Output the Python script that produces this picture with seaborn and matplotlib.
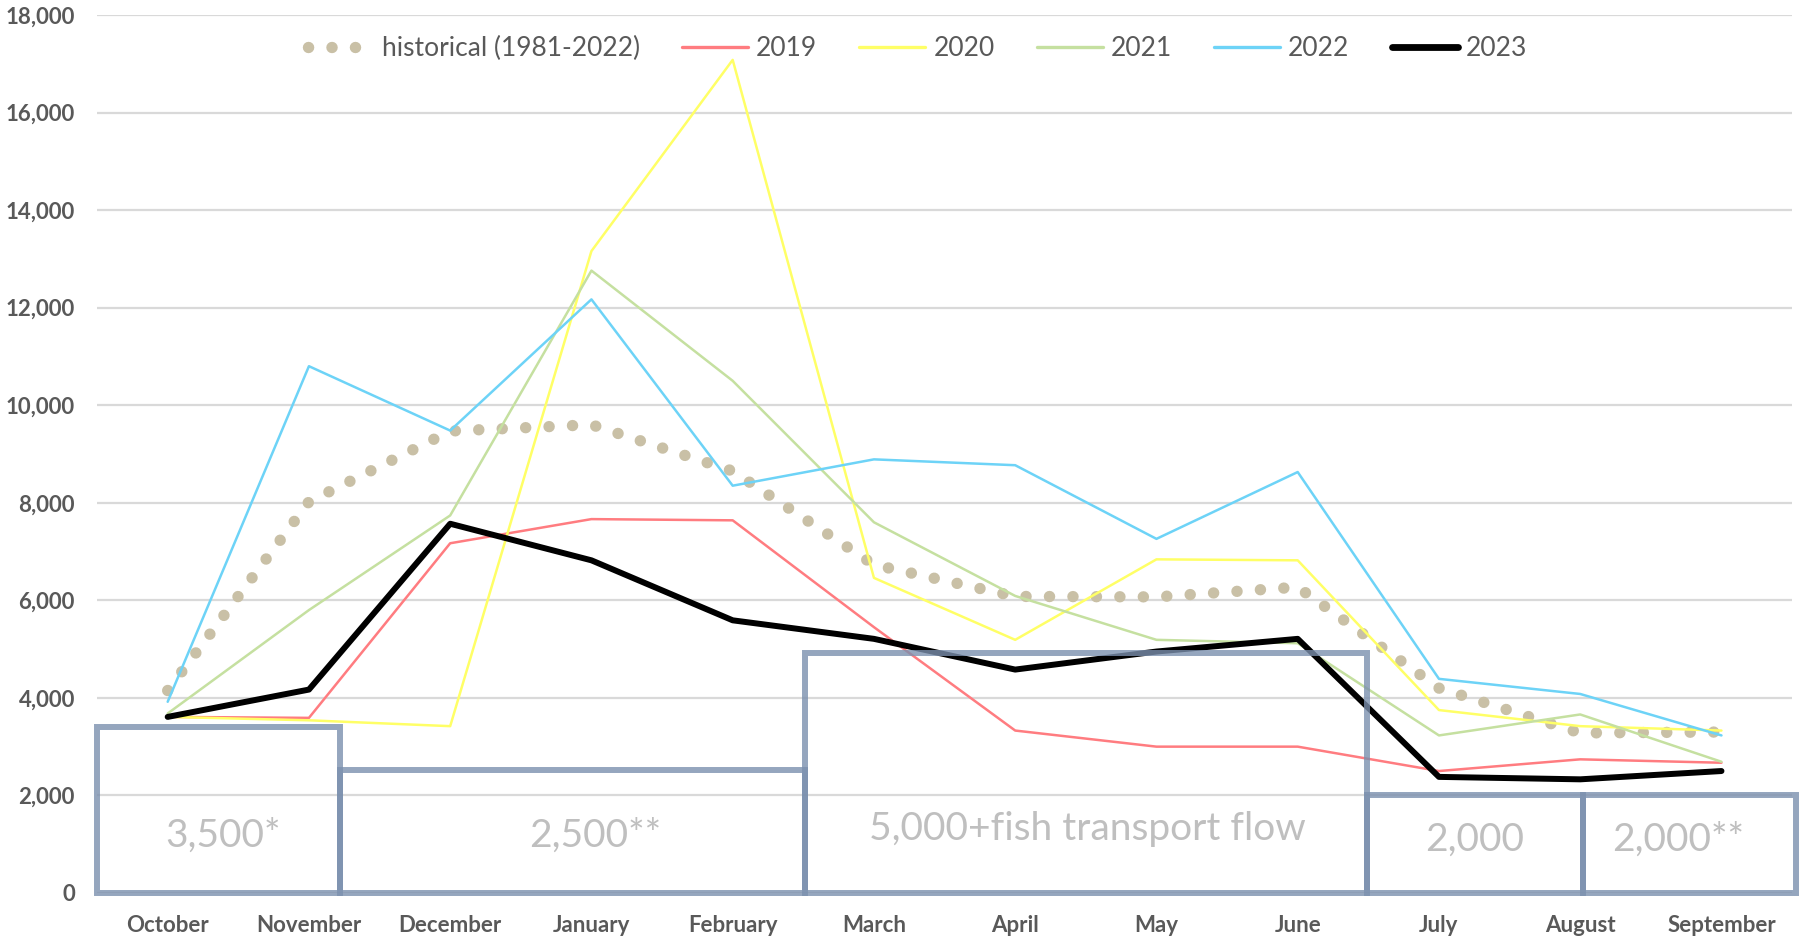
import matplotlib
matplotlib.use("Agg")
import matplotlib.pyplot as plt
from matplotlib.patches import Rectangle
from matplotlib.lines import Line2D
from matplotlib.ticker import FuncFormatter
import seaborn as sns

# data
months = ['October', 'November', 'December', 'January', 'February', 'March',
          'April', 'May', 'June', 'July', 'August', 'September']
historical = [4150, 8020, 9470, 9600, 8650, 6730, 6080, 6070, 6270, 4200, 3280, 3300]
y2019 = [3610, 3590, 7170, 7665, 7640, 5450, 3330, 3000, 3000, 2500, 2740, 2670]
y2020 = [3610, 3540, 3420, 13160, 17080, 6460, 5190, 6840, 6820, 3750, 3420, 3330]
y2021 = [3680, 5800, 7740, 12760, 10500, 7600, 6090, 5190, 5120, 3230, 3660, 2690]
y2022 = [3920, 10800, 9480, 12170, 8350, 8890, 8770, 7260, 8630, 4390, 4080, 3230]
y2023 = [3610, 4170, 7570, 6820, 5590, 5210, 4580, 4950, 5210, 2380, 2330, 2500]

# minimum flow blocks (month index units)
box_start = [-0.5, 1.22, 4.51, 8.49, 10.02]
box_end = [1.22, 4.51, 8.49, 10.02, 11.53]
box_height = [3400, 2520, 4930, 2000, 2000]
box_labels = ['3,500*', '2,500**', '5,000+fish transport flow', '2,000', '2,000**']
label_x = [0.39, 3.03, 6.51, 9.25, 10.69]
label_y = [1180, 1180, 1320, 1085, 1085]

sns.set_style("white")
plt.rcParams['font.family'] = ['Lato', 'DejaVu Sans']

fig = plt.figure(figsize=(18.04, 9.38), dpi=100)
ax = fig.add_axes([0.0538, 0.048, 0.9396, 0.936])

x = list(range(len(months)))
txt = '#595959'

ax.set_ylim(0, 18000)
ax.set_xlim(-0.5, 11.5)
ax.set_yticks(range(0, 18001, 2000))
ax.yaxis.set_major_formatter(FuncFormatter(lambda v, p: f'{int(v):,}'))
ax.set_xticks(x)
ax.set_xticklabels(months)
ax.grid(axis='y', color='#d9d9d9', lw=1.6)
ax.set_axisbelow(True)
for s in ax.spines.values():
    s.set_visible(False)
ax.tick_params(axis='both', length=0, labelcolor=txt, labelsize=16)
ax.tick_params(axis='y', pad=16)
ax.tick_params(axis='x', pad=16)
for lab in ax.get_xticklabels() + ax.get_yticklabels():
    lab.set_fontweight('bold')

sns.lineplot(x=x, y=historical, ax=ax, color='#c9c0a6', lw=8.2,
             linestyle=(0, (0.01, 2.05)), dash_capstyle='round')
series = [(y2019, '#ff7c80', 1.8, '2019'), (y2020, '#ffff66', 1.8, '2020'),
          (y2021, '#c5e0a0', 1.8, '2021'), (y2022, '#6dd3f7', 1.8, '2022'),
          (y2023, 'black', 4.3, '2023')]
for vals, col, lw, name in series:
    sns.lineplot(x=x, y=vals, ax=ax, color=col, lw=lw)

for x0, x1, h in zip(box_start, box_end, box_height):
    ax.add_patch(Rectangle((x0, 0), x1 - x0, h, fill=False, ec='#7b90ae',
                           lw=4.3, alpha=0.8, clip_on=False, zorder=5))
for lx, ly, lab in zip(label_x, label_y, box_labels):
    ax.text(lx, ly, lab, ha='center', va='center', color='#bfbfbf', fontsize=28, zorder=6)

handles = [Line2D([], [], color='#c9c0a6', lw=8.2, linestyle=(0, (0.01, 2.05)),
                  dash_capstyle='round')]
labels = ['historical (1981-2022)']
for vals, col, lw, name in series:
    handles.append(Line2D([], [], color=col, lw=lw + 0.6, solid_capstyle='round'))
    labels.append(name)
ax.legend(handles, labels, loc='center', bbox_to_anchor=(0.484, 0.962), ncol=6,
          frameon=False, fontsize=19, labelcolor=txt, handlelength=2.5,
          handletextpad=0.3, columnspacing=1.6)

fig.savefig('out.png', dpi=100)
